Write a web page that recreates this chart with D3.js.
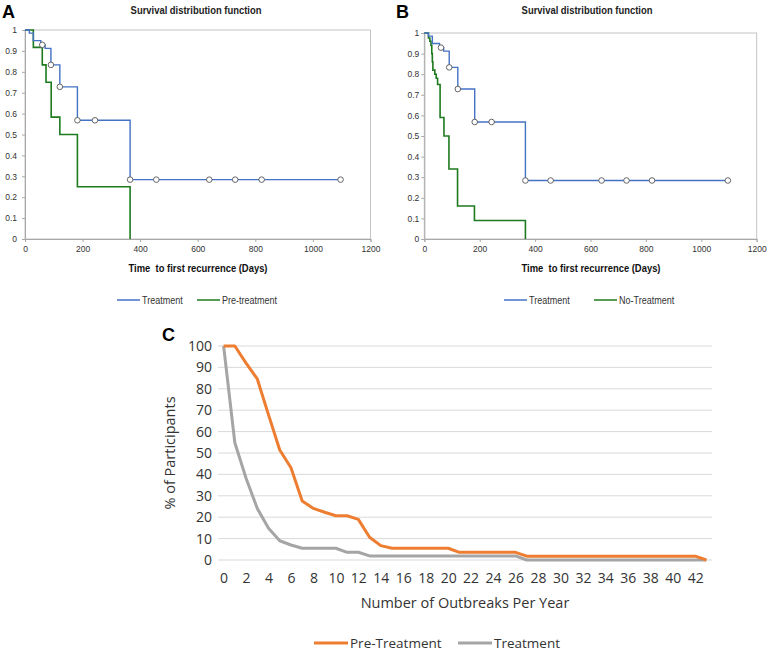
<!DOCTYPE html>
<html><head><meta charset="utf-8">
<script src="https://cdn.jsdelivr.net/npm/d3@7"></script>
<style>body{margin:0;background:#fff}svg{display:block}</style>
</head><body>
<svg id="chart" width="768" height="653"></svg>
<script>
// ---------- Data: panels A and B (Kaplan-Meier survival) ----------
const survTicksX = [0, 200, 400, 600, 800, 1000, 1200];
const survTicksY = [0, 0.1, 0.2, 0.3, 0.4, 0.5, 0.6, 0.7, 0.8, 0.9, 1];
const survTickLabelsY = ["0", "0.1", "0.2", "0.3", "0.4", "0.5", "0.6", "0.7", "0.8", "0.9", "1"];

const treatmentDays = [0, 15, 29, 55, 70, 90, 121, 182, 365, 1096];
const treatmentSurv = [1, 0.985, 0.949, 0.929, 0.912, 0.833, 0.728, 0.568, 0.284, 0.284];
const treatmentCensorDays = [60, 90, 121, 182, 243, 365, 456, 640, 730, 822, 1096];

const preTreatmentDays = [0, 29, 60, 73, 91, 121, 182, 365];
const preTreatmentSurv = [1, 0.917, 0.833, 0.75, 0.583, 0.5, 0.25, 0];

const noTreatmentDays = [0, 15, 20, 24, 27, 29, 31, 38, 43, 48, 57, 71, 89, 120, 181, 365];
const noTreatmentSurv = [1, 0.976, 0.96, 0.94, 0.90, 0.86, 0.82, 0.80, 0.78, 0.75, 0.59, 0.5, 0.34, 0.16, 0.09, 0];

// ---------- Data: panel C ----------
const outbreakCategories = [0,1,2,3,4,5,6,7,8,9,10,11,12,13,14,15,16,17,18,19,20,21,22,23,24,25,26,27,28,29,30,31,32,33,34,35,36,37,38,39,40,41,42,43];
const outbreakTickLabels = [0,2,4,6,8,10,12,14,16,18,20,22,24,26,28,30,32,34,36,38,40,42];
const pctTicksY = [0,10,20,30,40,50,60,70,80,90,100];
const preTreatmentPct = [100,100,92,84.6,67.8,51.4,43.1,27.6,24.1,22.3,20.7,20.7,19.0,10.6,6.7,5.5,5.5,5.5,5.5,5.5,5.5,3.6,3.6,3.6,3.6,3.6,3.6,1.8,1.8,1.8,1.8,1.8,1.8,1.8,1.8,1.8,1.8,1.8,1.8,1.8,1.8,1.8,1.8,0];
const treatmentPct = [100,54.8,38.2,24.1,14.8,9.0,7.0,5.5,5.5,5.5,5.5,3.6,3.6,1.9,1.9,1.9,1.9,1.9,1.9,1.9,1.9,1.9,1.9,1.9,1.9,1.9,1.9,0,0,0,0,0,0,0,0,0,0,0,0,0,0,0,0,0];

// ---------- Styles ----------
const BLUE = "#4472c4", GREEN = "#1e7a1e", ORANGE = "#ed7d31", GRAY = "#a5a5a5";
const ARIAL = "'Liberation Sans',Arial,sans-serif";
const CAL = "'Open Sans','Noto Sans',sans-serif";
const NARROW_SCALE = 0.82;

const svg = d3.select("#chart");

// narrow (Arial Narrow-like) text: Liberation Sans compressed horizontally
function narrowText(parent, x, y, txt, size, bold, anchor, fill) {
  return parent.append("text")
    .attr("transform", `translate(${x},${y}) scale(${NARROW_SCALE},1)`)
    .attr("text-anchor", anchor || "start")
    .attr("font-family", ARIAL).attr("font-size", size)
    .attr("font-weight", bold ? "bold" : "normal")
    .attr("fill", fill || "#222")
    .attr("xml:space", "preserve")
    .text(txt);
}

function survivalPanel(cfg) {
  const g = svg.append("g");
  const x = d3.scaleLinear().domain([0, 1200]).range([cfg.left, cfg.right]);
  const y = d3.scaleLinear().domain([0, 1]).range([cfg.bottom, cfg.top]);

  g.append("rect").attr("x", cfg.left).attr("y", cfg.top)
    .attr("width", cfg.right - cfg.left).attr("height", cfg.bottom - cfg.top)
    .attr("fill", "none").attr("stroke", "#c4c4c4").attr("stroke-width", 1);

  const ax = g.append("g").attr("transform", `translate(0,${cfg.bottom})`)
    .call(d3.axisBottom(x).tickValues(survTicksX).tickSize(3).tickPadding(4).tickFormat(d3.format("d")));
  const ay = g.append("g").attr("transform", `translate(${cfg.left},0)`)
    .call(d3.axisLeft(y).tickValues(survTicksY).tickSize(3).tickPadding(cfg.ypad)
      .tickFormat((d, i) => survTickLabelsY[i]));
  [ax, ay].forEach(a => {
    a.select(".domain").attr("stroke", "#a8a8a8");
    a.selectAll(".tick line").attr("stroke", "#a8a8a8");
    a.selectAll("text").attr("font-family", ARIAL).attr("font-size", 8.5).attr("fill", "#333");
  });

  const line = d3.line().x(d => x(d[0])).y(d => y(d[1])).curve(d3.curveStepAfter);
  const other = cfg.otherDays.map((d, i) => [d, cfg.otherSurv[i]]);
  const treat = treatmentDays.map((d, i) => [d, treatmentSurv[i]]);
  g.append("path").attr("d", line(other)).attr("fill", "none").attr("stroke", GREEN).attr("stroke-width", 1.6);
  g.append("path").attr("d", line(treat)).attr("fill", "none").attr("stroke", BLUE).attr("stroke-width", 1.4);

  const survAt = day => {
    let v = 1;
    treatmentDays.forEach((d, i) => { if (d <= day) v = treatmentSurv[i]; });
    return v;
  };
  g.selectAll("circle.c").data(treatmentCensorDays).join("circle")
    .attr("cx", d => x(d)).attr("cy", d => y(survAt(d))).attr("r", 2.8)
    .attr("fill", "#fff").attr("stroke", "#555").attr("stroke-width", 0.9);

  narrowText(g, cfg.titleX, 14, "Survival distribution function", 11.5, true, "middle", "#222");
  narrowText(g, cfg.xTitleX, 272, "Time  to first recurrence (Days)", 11.5, true, "middle", "#111");
  g.append("text").attr("x", cfg.letterX).attr("y", 18)
    .attr("font-family", ARIAL).attr("font-weight", "bold").attr("font-size", 18).attr("fill", "#000")
    .text(cfg.letter);

  const lg = g.append("g").attr("transform", `translate(0,300)`);
  cfg.legend.forEach(it => {
    lg.append("line").attr("x1", it.x).attr("x2", it.x + 23).attr("y1", 0).attr("y2", 0)
      .attr("stroke", it.color).attr("stroke-width", 1.5);
    narrowText(lg, it.x + 25, 4, it.label, 11, false, "start", "#333");
  });
}

survivalPanel({
  left: 25, right: 370.5, top: 30, bottom: 239, ypad: 5,
  titleX: 196, xTitleX: 198, letterX: 2, letter: "A",
  otherDays: preTreatmentDays, otherSurv: preTreatmentSurv,
  legend: [{x: 117, color: BLUE, label: "Treatment"}, {x: 197, color: GREEN, label: "Pre-treatment"}]
});
survivalPanel({
  left: 424.3, right: 756.7, top: 33, bottom: 239, ypad: 2,
  titleX: 587, xTitleX: 591, letterX: 396, letter: "B",
  otherDays: noTreatmentDays, otherSurv: noTreatmentSurv,
  legend: [{x: 504, color: BLUE, label: "Treatment"}, {x: 594, color: GREEN, label: "No-Treatment"}]
});

// ---------- Panel C ----------
(function () {
  const g = svg.append("g");
  const x = d3.scaleBand().domain(outbreakCategories).range([218, 712]);
  const cx = d => x(d) + x.bandwidth() / 2;
  const y = d3.scaleLinear().domain([0, 100]).range([560, 346]);

  g.selectAll("line.grid").data(pctTicksY).join("line")
    .attr("x1", 218).attr("x2", 712).attr("y1", d => y(d)).attr("y2", d => y(d))
    .attr("stroke", "#d9d9d9").attr("stroke-width", 1);

  const ay = g.append("g").attr("transform", "translate(218,0)")
    .call(d3.axisLeft(y).tickValues(pctTicksY).tickSize(0).tickPadding(6));
  ay.select(".domain").remove();
  ay.selectAll("text").attr("font-family", CAL).attr("font-size", 14).attr("fill", "#333");

  const xAxis = d3.axisBottom(d3.scalePoint().domain(outbreakCategories).range([cx(0), cx(43)]))
    .tickValues(outbreakTickLabels).tickSize(0).tickPadding(13);
  const axx = g.append("g").attr("transform", "translate(0,560)").call(xAxis);
  axx.select(".domain").remove();
  axx.selectAll("text").attr("font-family", CAL).attr("font-size", 14).attr("fill", "#333");

  const line = d3.line().x((d, i) => cx(outbreakCategories[i])).y(d => y(d));
  g.append("path").attr("d", line(treatmentPct)).attr("fill", "none").attr("stroke", GRAY)
    .attr("stroke-width", 3).attr("stroke-linejoin", "round");
  g.append("path").attr("d", line(preTreatmentPct)).attr("fill", "none").attr("stroke", ORANGE)
    .attr("stroke-width", 3).attr("stroke-linejoin", "round");

  g.append("text").attr("transform", "translate(175,453) rotate(-90)").attr("text-anchor", "middle")
    .attr("font-family", CAL).attr("font-size", 14.5).attr("fill", "#333").text("% of Participants");
  g.append("text").attr("x", 465).attr("y", 608).attr("text-anchor", "middle")
    .attr("font-family", CAL).attr("font-size", 14.5).attr("fill", "#333").text("Number of Outbreaks Per Year");
  g.append("text").attr("x", 162).attr("y", 341)
    .attr("font-family", ARIAL).attr("font-weight", "bold").attr("font-size", 18).attr("fill", "#000").text("C");

  const leg = [{x: 314, color: ORANGE, label: "Pre-Treatment"}, {x: 458, color: GRAY, label: "Treatment"}];
  leg.forEach(it => {
    g.append("line").attr("x1", it.x).attr("x2", it.x + 34).attr("y1", 643).attr("y2", 643)
      .attr("stroke", it.color).attr("stroke-width", 3);
    g.append("text").attr("x", it.x + 36).attr("y", 648)
      .attr("font-family", CAL).attr("font-size", 13.5).attr("fill", "#333").text(it.label);
  });
})();
</script>
</body></html>
